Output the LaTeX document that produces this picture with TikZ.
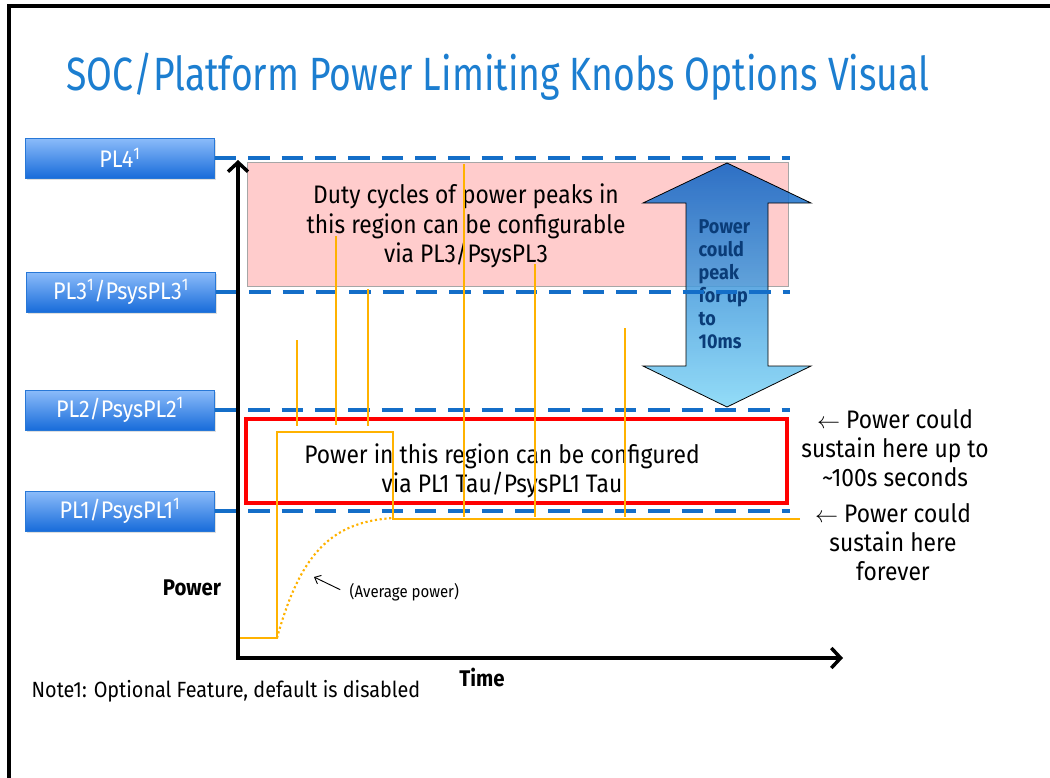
\documentclass[tikz,border=0pt]{standalone}
\usepackage{fontspec}
\setmainfont{Fira Sans}[FakeStretch=0.9]
\newfontfamily\titlefont{Fira Sans}[FakeStretch=0.8]
\usetikzlibrary{positioning,arrows.meta,shadows}
\definecolor{titleblue}{RGB}{28,126,208}
\definecolor{lineblue}{RGB}{20,110,200}
\definecolor{boxtop}{RGB}{140,188,250}
\definecolor{boxbot}{RGB}{24,108,218}
\definecolor{boxedge}{RGB}{40,120,215}
\definecolor{pulse}{RGB}{255,178,0}
\definecolor{peakdark}{RGB}{10,96,196}
\definecolor{peaklight}{RGB}{128,214,246}
\definecolor{peaktext}{RGB}{10,60,120}
\definecolor{regionpink}{RGB}{255,204,204}
\tikzset{
  plbox/.style={draw=boxedge, line width=0.6pt, top color=boxtop, bottom color=boxbot,
    minimum width=142pt, minimum height=30pt, text=white, font=\fontsize{18}{21}\selectfont,
    drop shadow={shadow xshift=1pt, shadow yshift=-1.5pt, opacity=.25}},
  pldash/.style={lineblue, line width=3pt, dash pattern=on 16pt off 9pt},
  bodytext/.style={align=center, font=\fontsize{19}{22}\selectfont},
  spike/.style={pulse, line width=1.6pt},
  axis/.style={line width=2.6pt, {Straight Barb[length=7pt,width=15pt]}-{Straight Barb[length=7pt,width=15pt]}}
}
\begin{document}
\begin{tikzpicture}[x=0.75pt, y=-0.75pt]
  \useasboundingbox (0,0) rectangle (1050,778);
  \draw[line width=2.6pt] (9,778) -- (9,6) -- (1050,6);
  \node[titleblue, font=\titlefont\fontsize{35}{40}\selectfont] (title) at (498,77) {SOC/Platform Power Limiting Knobs Options Visual};

  % peak region and arrow
  \fill[regionpink, draw=gray!70] (247,162) rectangle (788,286);
  \draw[black, line width=0.6pt, top color=peakdark, middle color=peaklight, bottom color=peaklight, fill opacity=0.85]
    (727,163) -- (811,203) -- (768,203) -- (768,366) -- (811,366) -- (727,407)
    -- (643,366) -- (686,366) -- (686,203) -- (643,203) -- cycle;
  \node[bodytext] (peaknote) at (466,226) {Duty cycles of power peaks in\\this region can be configurable\\via PL3/PsysPL3};
  \node[anchor=west, align=left, text=peaktext, font=\fontsize{15}{17.25}\bfseries\selectfont] (peaktime) at (694,284)
    {Power\\could\\peak\\for up\\to\\10ms};

  % limit labels
  \node[plbox] (pl4) at (120,158) {PL4\textsuperscript{1}};
  \node[plbox] (pl3) at (121,292) {PL3\textsuperscript{1}/PsysPL3\textsuperscript{1}};
  \node[plbox] (pl2) at (120,410) {PL2/PsysPL2\textsuperscript{1}};
  \node[plbox] (pl1) at (120,511) {PL1/PsysPL1\textsuperscript{1}};
  \foreach \lvl/\yy in {pl4/158,pl3/292,pl2/410,pl1/511} {
    \coordinate (\lvl end) at (790,\yy);
    \draw[pldash] (\lvl.east) -- (\lvl end);
  }

  % sustained region
  \draw[red, line width=2.6pt] (246,419) rectangle (787,503);
  \node[bodytext] (tauzone) at (502,471) {Power in this region can be configured\\via PL1 Tau/PsysPL1 Tau};

  % power trace
  \foreach \x/\top/\bot in {297/340/426,336/236/425,368/289/426,464/164/517,535/264/517,625/328/517} {
    \draw[spike] (\x,\top) -- (\x,\bot);
  }
  \draw[pulse, line width=2.1pt] (238,638) -- (277,638) -- (277,432) -- (393,432) -- (393,519) -- (800,519);
  \draw[pulse, line width=1.6pt, dotted] (277,638) .. controls (300,555) and (330,522) .. (393,518);
  \node[anchor=west, font=\fontsize{12.5}{15}\selectfont] (avg) at (345,592) {(Average power)};
  \coordinate (avgtip) at (314,577);
  \draw[-{Straight Barb[length=4pt,width=7pt]}, line width=0.7pt, shorten <=4pt] (avg.west) -- (avgtip);

  % axes
  \coordinate (origin) at (238,658);
  \coordinate (ytip) at (238,160);
  \coordinate (xtip) at (843,658);
  \draw[axis] (ytip) -- (origin) -- (xtip);
  \node[font=\fontsize{17}{20}\bfseries\selectfont] (ylabel) at (192,588) {Power};
  \node[font=\fontsize{17}{20}\bfseries\selectfont] (xlabel) at (482,677) {Time};

  % notes
  \node[bodytext] (pl2note) at (895,448) {$\leftarrow$ Power could\\sustain here up to\\\textasciitilde100s seconds};
  \node[bodytext] (pl1note) at (893,542) {$\leftarrow$ Power could\\sustain here\\forever};
  \node[anchor=west, font=\fontsize{16.5}{19}\selectfont] (note) at (27,691) {Note1: Optional Feature, default is disabled};
\end{tikzpicture}
\end{document}
